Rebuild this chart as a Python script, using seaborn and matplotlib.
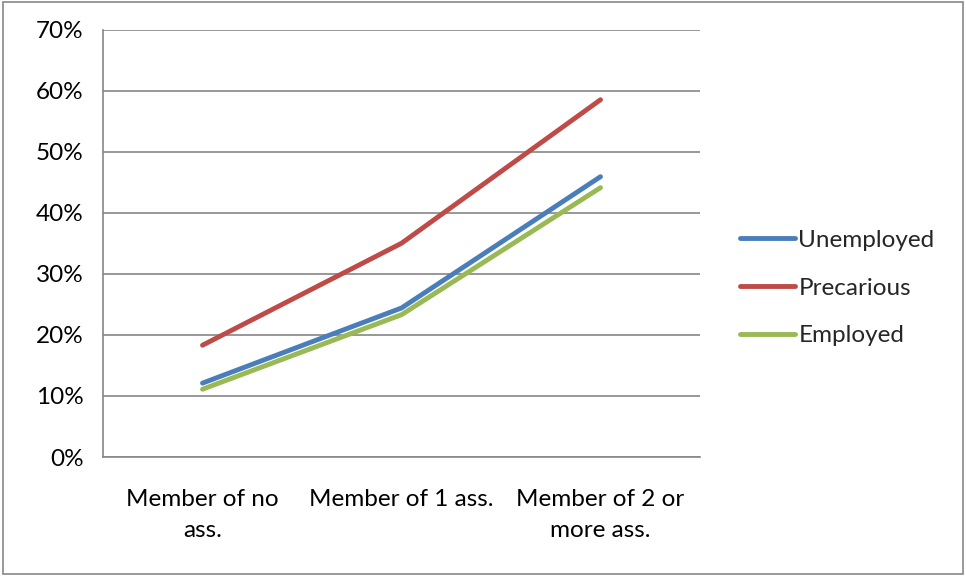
import matplotlib
matplotlib.use('Agg')
import matplotlib.pyplot as plt
import pandas as pd
import seaborn as sns
from matplotlib.patches import Rectangle
from matplotlib.ticker import PercentFormatter

categories = ['Member of no\nass.', 'Member of 1 ass.', 'Member of 2 or\nmore ass.']
series_names = ['Unemployed', 'Precarious', 'Employed']
unemployed = [0.121, 0.244, 0.459]
precarious = [0.183, 0.350, 0.585]
employed = [0.111, 0.233, 0.441]
colors = ['#4A7EBB', '#BE4B48', '#98B954']

rows = []
for name, vals in zip(series_names, [unemployed, precarious, employed]):
    for i, v in enumerate(vals):
        rows.append({'pos': i, 'value': v, 'status': name})
df = pd.DataFrame(rows)

sns.set_style('white')
plt.rcParams['font.family'] = ['Lato', 'DejaVu Sans']
fs = 17.5

fig = plt.figure(figsize=(9.66, 5.76), dpi=100)
ax = fig.add_axes([103 / 966, 1 - 457 / 576, 597 / 966, 427.5 / 576])

sns.lineplot(data=df, x='pos', y='value', hue='status', hue_order=series_names,
             palette=colors, linewidth=3.5, ax=ax, legend=False)
for line in ax.lines:
    line.set_solid_capstyle('round')

grid_c = '#868686'
ax.set_xlim(-0.5, 2.5)
ax.set_ylim(0, 0.7)
ax.set_yticks([i / 10 for i in range(8)])
ax.yaxis.set_major_formatter(PercentFormatter(1.0, decimals=0))
ax.set_xticks(range(len(categories)))
ax.set_xticklabels(categories, linespacing=1.6)
ax.set_xticks([-0.5, 0.5, 1.5, 2.5], minor=True)
ax.tick_params(axis='x', which='major', length=0, pad=23, labelsize=fs, colors='black')
ax.tick_params(axis='x', which='minor', length=5, width=1.2, color=grid_c, direction='out')
ax.tick_params(axis='y', length=5, width=1.2, color=grid_c, labelcolor='black',
               direction='out', pad=9, labelsize=fs)
ax.yaxis.grid(True, color=grid_c, linewidth=1.2)
ax.set_axisbelow(True)
for side in ['top', 'right']:
    ax.spines[side].set_visible(False)
for side in ['left', 'bottom']:
    ax.spines[side].set_color(grid_c)
    ax.spines[side].set_linewidth(1.2)
ax.set_xlabel('')
ax.set_ylabel('')

handles = [plt.Line2D([], [], color=c, linewidth=3.5, solid_capstyle='round') for c in colors]
fig.legend(handles, series_names, loc='center left', bbox_to_anchor=(740 / 966, 1 - 288 / 576),
           frameon=False, handlelength=2.25, handletextpad=0.15, labelspacing=1.1,
           borderpad=0, borderaxespad=0, fontsize=fs)

fig.patches.append(Rectangle((0.003, 0.003), 0.994, 0.994, transform=fig.transFigure,
                             fill=False, edgecolor='#878787', linewidth=1.2))

fig.savefig('out.png', dpi=100)
